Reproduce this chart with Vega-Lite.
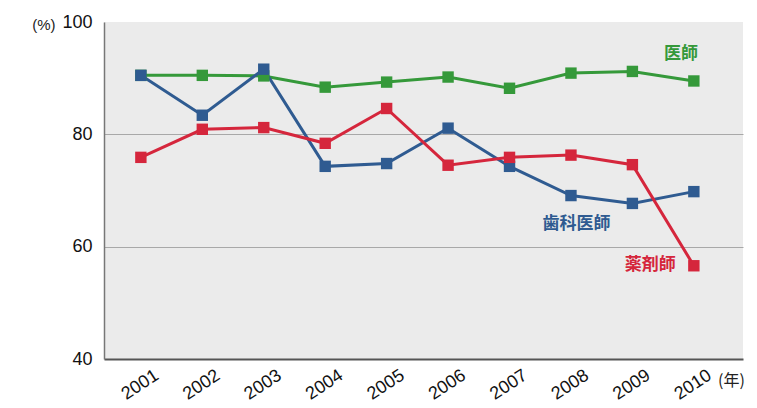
{
  "$schema": "https://vega.github.io/schema/vega-lite/v6.json",
  "width": 639,
  "height": 337,
  "autosize": {"type": "none"},
  "padding": {"left": 104, "top": 22, "right": 14, "bottom": 49},
  "background": "#ffffff",
  "config": {
    "view": {"fill": "#ebebeb", "stroke": null},
    "font": "Liberation Sans"
  },
  "datasets": {
    "series": [
      {"year": 2001, "value": 90.5, "job": "医師"},
      {"year": 2002, "value": 90.5, "job": "医師"},
      {"year": 2003, "value": 90.4, "job": "医師"},
      {"year": 2004, "value": 88.4, "job": "医師"},
      {"year": 2005, "value": 89.3, "job": "医師"},
      {"year": 2006, "value": 90.2, "job": "医師"},
      {"year": 2007, "value": 88.2, "job": "医師"},
      {"year": 2008, "value": 90.9, "job": "医師"},
      {"year": 2009, "value": 91.2, "job": "医師"},
      {"year": 2010, "value": 89.5, "job": "医師"},
      {"year": 2001, "value": 90.5, "job": "歯科医師"},
      {"year": 2002, "value": 83.4, "job": "歯科医師"},
      {"year": 2003, "value": 91.6, "job": "歯科医師"},
      {"year": 2004, "value": 74.3, "job": "歯科医師"},
      {"year": 2005, "value": 74.8, "job": "歯科医師"},
      {"year": 2006, "value": 81.1, "job": "歯科医師"},
      {"year": 2007, "value": 74.3, "job": "歯科医師"},
      {"year": 2008, "value": 69.1, "job": "歯科医師"},
      {"year": 2009, "value": 67.7, "job": "歯科医師"},
      {"year": 2010, "value": 69.8, "job": "歯科医師"},
      {"year": 2001, "value": 75.9, "job": "薬剤師"},
      {"year": 2002, "value": 80.9, "job": "薬剤師"},
      {"year": 2003, "value": 81.2, "job": "薬剤師"},
      {"year": 2004, "value": 78.4, "job": "薬剤師"},
      {"year": 2005, "value": 84.6, "job": "薬剤師"},
      {"year": 2006, "value": 74.5, "job": "薬剤師"},
      {"year": 2007, "value": 75.9, "job": "薬剤師"},
      {"year": 2008, "value": 76.3, "job": "薬剤師"},
      {"year": 2009, "value": 74.6, "job": "薬剤師"},
      {"year": 2010, "value": 56.6, "job": "薬剤師"}
    ],
    "labels": [
      {"year": 2009.79, "value": 94.3, "job": "医師"},
      {"year": 2008.09, "value": 64.1, "job": "歯科医師"},
      {"year": 2009.29, "value": 56.8, "job": "薬剤師"}
    ]
  },
  "layer": [
    {
      "data": {"name": "series"},
      "mark": {"type": "line", "strokeWidth": 3},
      "encoding": {
        "x": {
          "field": "year", "type": "quantitative",
          "scale": {"domain": [2000.4, 2010.8], "nice": false, "zero": false},
          "axis": {
            "values": [2001, 2002, 2003, 2004, 2005, 2006, 2007, 2008, 2009, 2010],
            "format": "d", "grid": false, "ticks": false,
            "domainColor": "#555555", "domainWidth": 2,
            "labelAngle": -33, "labelAlign": "center", "labelBaseline": "top",
            "labelPadding": 18, "labelOffset": -6, "labelFontSize": 18, "labelColor": "#111111",
            "labelFont": "Liberation Sans",
            "title": "(年)", "titleFont": "Noto Sans CJK JP", "titleFontSize": 16,
            "titleFontWeight": "normal", "titleColor": "#222222",
            "titleX": 627, "titleY": 21, "titleBaseline": "middle", "titleAlign": "center"
          }
        },
        "y": {
          "field": "value", "type": "quantitative",
          "scale": {"domain": [40, 100], "nice": false, "zero": false},
          "axis": {
            "values": [40, 60, 80, 100], "ticks": false,
            "domainColor": "#777777", "domainWidth": 1.5,
            "gridColor": {"condition": {"test": "datum.value === 100 || datum.value === 40", "value": "transparent"}, "value": "#a8a8a8"},
            "gridWidth": 1,
            "labelFontSize": 18, "labelColor": "#111111", "labelPadding": 12,
            "title": "(%)", "titleAngle": 0, "titleFontSize": 15, "titleFontWeight": "normal",
            "titleColor": "#222222", "titleAlign": "right", "titleBaseline": "middle",
            "titleX": -49, "titleY": 2
          }
        },
        "color": {
          "field": "job", "type": "nominal",
          "scale": {"domain": ["医師", "歯科医師", "薬剤師"], "range": ["#35993a", "#2f5b91", "#d5263c"]},
          "legend": null
        }
      }
    },
    {
      "data": {"name": "series"},
      "mark": {"type": "square", "size": 130, "opacity": 1, "filled": true},
      "encoding": {
        "x": {"field": "year", "type": "quantitative"},
        "y": {"field": "value", "type": "quantitative"},
        "color": {"field": "job", "type": "nominal", "legend": null}
      }
    },
    {
      "data": {"name": "labels"},
      "mark": {"type": "text", "font": "Noto Sans CJK JP", "fontWeight": "bold", "fontSize": 17, "align": "center", "baseline": "middle"},
      "encoding": {
        "x": {"field": "year", "type": "quantitative"},
        "y": {"field": "value", "type": "quantitative"},
        "text": {"field": "job"},
        "color": {"field": "job", "type": "nominal", "legend": null}
      }
    }
  ]
}
